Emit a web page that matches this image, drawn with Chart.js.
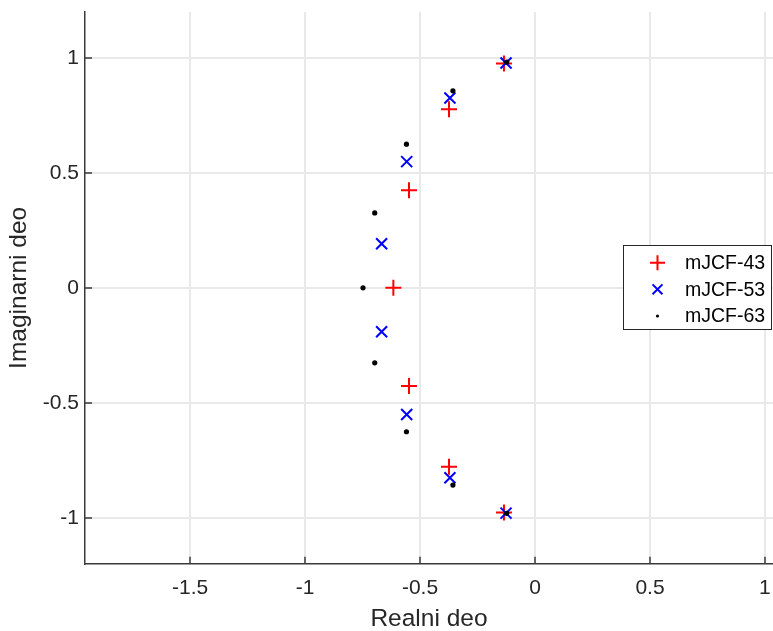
<!DOCTYPE html>
<html>
<head>
<meta charset="utf-8">
<script src="https://cdn.jsdelivr.net/npm/chart.js@4.4.1/dist/chart.umd.min.js"></script>
<style>
  html, body { margin: 0; padding: 0; background: #fff; overflow: hidden; }
  #wrap { width: 783px; height: 631px; position: relative; }
</style>
</head>
<body>
<div id="wrap"><canvas id="poles"></canvas></div>
<script>
const names = ['mJCF-43', 'mJCF-53', 'mJCF-63'];
const re43 = [-0.135, -0.374, -0.548, -0.616, -0.548, -0.374, -0.135];
const im43 = [0.976, 0.777, 0.425, 0, -0.427, -0.778, -0.977];
const re53 = [-0.126, -0.370, -0.558, -0.667, -0.667, -0.558, -0.370, -0.126];
const im53 = [0.978, 0.826, 0.549, 0.192, -0.191, -0.551, -0.826, -0.980];
const re63 = [-0.123, -0.357, -0.559, -0.697, -0.748, -0.697, -0.559, -0.357, -0.123];
const im63 = [0.982, 0.857, 0.625, 0.326, 0, -0.326, -0.626, -0.858, -0.981];
const xTicks = [-1.5, -1, -0.5, 0, 0.5, 1];
const yTicks = [-1, -0.5, 0, 0.5, 1];

const axisCol = '#3a3a3a';
const textCol = '#262626';
const gridCol = '#e9e9e9';
const fontFam = '"Liberation Sans", Arial, Helvetica, sans-serif';

function toPoints(xs, ys) {
  return xs.map((x, i) => ({ x: x, y: ys[i] }));
}

// MATLAB style: ticks pointing inward + legend box inside the axes
const matlabBits = {
  id: 'matlabBits',
  afterDraw(chart) {
    const ctx = chart.ctx;
    const area = chart.chartArea;
    const xs = chart.scales.x, ys = chart.scales.y;
    ctx.save();
    ctx.strokeStyle = axisCol;
    ctx.lineWidth = 1.5;
    ctx.beginPath();
    xTicks.forEach(v => {
      const px = Math.round(xs.getPixelForValue(v));
      ctx.moveTo(px, area.bottom);
      ctx.lineTo(px, area.bottom - 7);
    });
    yTicks.forEach(v => {
      const py = Math.round(ys.getPixelForValue(v));
      ctx.moveTo(area.left, py);
      ctx.lineTo(area.left + 7, py);
    });
    ctx.stroke();

    // legend
    const bx = 623.5, by = 245.5, bw = 148, bh = 84;
    ctx.fillStyle = '#fff';
    ctx.fillRect(bx, by, bw, bh);
    ctx.lineWidth = 1;
    ctx.strokeStyle = textCol;
    ctx.strokeRect(bx, by, bw, bh);
    const rows = [262.7, 289.3, 316];
    const legendSizes = [7.5, 7, 1.6];
    chart.data.datasets.forEach((ds, i) => {
      ctx.save();
      ctx.strokeStyle = ds.borderColor;
      ctx.fillStyle = ds.backgroundColor;
      ctx.lineWidth = ds.borderWidth;
      Chart.helpers.drawPoint(ctx, {
        pointStyle: ds.pointStyle,
        radius: legendSizes[i],
        rotation: 0,
        borderWidth: ds.borderWidth
      }, 657.5, rows[i]);
      ctx.restore();
      ctx.fillStyle = '#000';
      ctx.font = '19.5px ' + fontFam;
      ctx.textBaseline = 'middle';
      ctx.textAlign = 'left';
      ctx.fillText(names[i], 685, rows[i] + 1);
    });
    ctx.restore();
  }
};

new Chart(document.getElementById('poles'), {
  type: 'scatter',
  data: {
    datasets: [
      {
        label: names[0],
        data: toPoints(re43, im43),
        pointStyle: 'cross',
        pointRadius: 8,
        pointHoverRadius: 8,
        borderColor: '#ff0000',
        backgroundColor: '#ff0000',
        borderWidth: 2,
        order: 3
      },
      {
        label: names[1],
        data: toPoints(re53, im53),
        pointStyle: 'crossRot',
        pointRadius: 7.8,
        pointHoverRadius: 7.8,
        borderColor: '#0000ff',
        backgroundColor: '#0000ff',
        borderWidth: 2,
        order: 2
      },
      {
        label: names[2],
        data: toPoints(re63, im63),
        pointStyle: 'circle',
        pointRadius: 2.6,
        pointHoverRadius: 2.6,
        borderColor: '#000000',
        backgroundColor: '#000000',
        borderWidth: 0,
        order: 1
      }
    ]
  },
  options: {
    responsive: true,
    maintainAspectRatio: false,
    animation: false,
    layout: { padding: { top: 12, right: 0, left: 0, bottom: 0 } },
    plugins: {
      legend: { display: false },
      tooltip: { enabled: false }
    },
    scales: {
      x: {
        type: 'linear',
        min: -1.957,
        max: 1.035,
        afterBuildTicks: s => { s.ticks = xTicks.map(v => ({ value: v })); },
        afterFit: s => { s.height = 67.3; s.paddingLeft = 0; s.paddingRight = 0; },
        grid: { color: gridCol, drawTicks: false, lineWidth: 2 },
        border: { display: true, color: axisCol, width: 1.5 },
        ticks: {
          color: textCol,
          padding: 12,
          font: { family: fontFam, size: 21 },
          callback: v => String(v)
        },
        title: {
          display: true,
          text: 'Realni deo',
          color: textCol,
          padding: 0,
          font: { family: fontFam, size: 24.5, lineHeight: 1 }
        }
      },
      y: {
        type: 'linear',
        min: -1.2,
        max: 1.2,
        afterBuildTicks: s => { s.ticks = yTicks.map(v => ({ value: v })); },
        afterFit: s => { s.width = 85; s.paddingTop = 0; s.paddingBottom = 0; },
        grid: { color: gridCol, drawTicks: false, lineWidth: 2 },
        border: { display: true, color: axisCol, width: 1.5 },
        ticks: {
          color: textCol,
          padding: 6,
          font: { family: fontFam, size: 21 },
          callback: v => String(v)
        },
        title: {
          display: true,
          text: 'Imaginarni deo',
          color: textCol,
          padding: { top: 7, bottom: 0 },
          font: { family: fontFam, size: 24.5, lineHeight: 1 }
        }
      }
    }
  },
  plugins: [matlabBits]
});
</script>
</body>
</html>
